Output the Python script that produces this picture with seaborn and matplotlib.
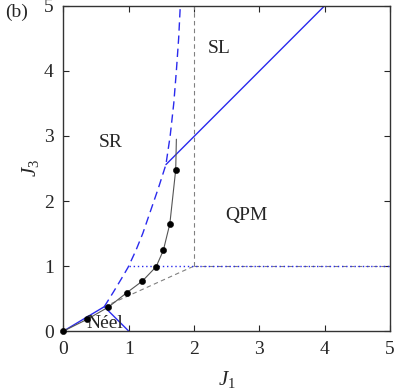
import numpy as np
import pandas as pd
import matplotlib
matplotlib.use("Agg")
import matplotlib.pyplot as plt
from matplotlib import font_manager
import seaborn as sns

# phase boundaries
neel_j1 = [0.0, 0.625, 1.0]
neel_j3 = [0.0, 0.375, 0.0]

sr_j1 = [0.625, 0.765, 0.885, 0.99, 1.11, 1.215, 1.335, 1.455, 1.57, 1.635, 1.69, 1.73, 1.765, 1.79]
sr_j3 = [0.375, 0.6, 0.8, 0.98, 1.24, 1.5, 1.85, 2.2, 2.56, 3.0, 3.5, 4.0, 4.5, 5.0]

sl_j1 = [1.57, 4.0]
sl_j3 = [2.56, 5.0]

qpm_dot_j1 = [1.0, 5.0]
qpm_dot_j3 = [1.0, 1.0]

gray_v_j1 = [2.0, 2.0]
gray_v_j3 = [1.0, 5.0]
gray_h_j1 = [2.0, 5.0]
gray_h_j3 = [1.0, 1.0]
gray_d_j1 = [0.625, 2.0]
gray_d_j3 = [0.375, 1.0]

# numerical points
pts_j1 = [0.0, 0.36, 0.69, 0.97, 1.21, 1.42, 1.53, 1.63, 1.72]
pts_j3 = [0.0, 0.18, 0.37, 0.59, 0.77, 0.99, 1.24, 1.65, 2.48]
line_j1 = pts_j1 + [1.73]
line_j3 = pts_j3 + [2.95]

region_labels = ["SL", "SR", "QPM", "Néel"]
region_x = [2.38, 0.72, 2.8, 0.64]
region_y = [4.35, 2.9, 1.78, 0.12]

sns.set_theme(style="ticks")
installed = {f.name for f in font_manager.fontManager.ttflist}
serif = next((n for n in ["Liberation Serif", "Times New Roman", "Nimbus Roman",
                          "TeX Gyre Termes", "DejaVu Serif"] if n in installed),
             "DejaVu Serif")
plt.rcParams["font.family"] = [serif, "DejaVu Serif"]
plt.rcParams["mathtext.fontset"] = "custom"
plt.rcParams["mathtext.it"] = serif + ":italic"
plt.rcParams["mathtext.rm"] = serif

fig = plt.figure(figsize=(3.99, 3.90), dpi=100)
ax = fig.add_axes([0.159, 0.151, 0.818, 0.834])

blue = "#2a2aee"
gray = "#808080"


def draw(x, y, **kw):
    df = pd.DataFrame({"x": x, "y": y})
    sns.lineplot(data=df, x="x", y="y", sort=False, estimator=None, ax=ax, **kw)


draw(gray_v_j1, gray_v_j3, color=gray, lw=0.8, linestyle=(0, (4, 3)))
draw(gray_h_j1, gray_h_j3, color=gray, lw=0.8, linestyle=(0, (4, 3)))
draw(gray_d_j1, gray_d_j3, color=gray, lw=0.8, linestyle=(0, (4, 3)))
draw(qpm_dot_j1, qpm_dot_j3, color=blue, lw=1.0, linestyle=(0, (1, 2)))
draw(neel_j1, neel_j3, color=blue, lw=1.0)
draw(sr_j1, sr_j3, color=blue, lw=1.0, linestyle=(0, (6, 3.5)))
draw(sl_j1, sl_j3, color=blue, lw=1.0)
draw(line_j1, line_j3, color="#555555", lw=0.8)
sns.scatterplot(x=pts_j1, y=pts_j3, color="black", s=20, edgecolor="black",
                zorder=5, ax=ax, clip_on=False)

for lab, x, y in zip(region_labels, region_x, region_y):
    ax.text(x, y, lab, fontsize=14, ha="center", va="center")

ax.set_xlim(0, 5)
ax.set_ylim(0, 5)
ax.set_xticks(range(6))
ax.set_yticks(range(6))
ax.tick_params(direction="in", top=True, right=True, labelsize=14,
               length=4, width=0.8, pad=7)
for s in ax.spines.values():
    s.set_linewidth(1.0)
    s.set_color("#333333")
ax.set_xlabel(r"$J_1$", fontsize=15, labelpad=8)
ax.set_ylabel(r"$J_3$", fontsize=15, labelpad=2)
fig.text(0.012, 0.969, "(b)", fontsize=14, va="center")

fig.savefig("out.png", dpi=100)
